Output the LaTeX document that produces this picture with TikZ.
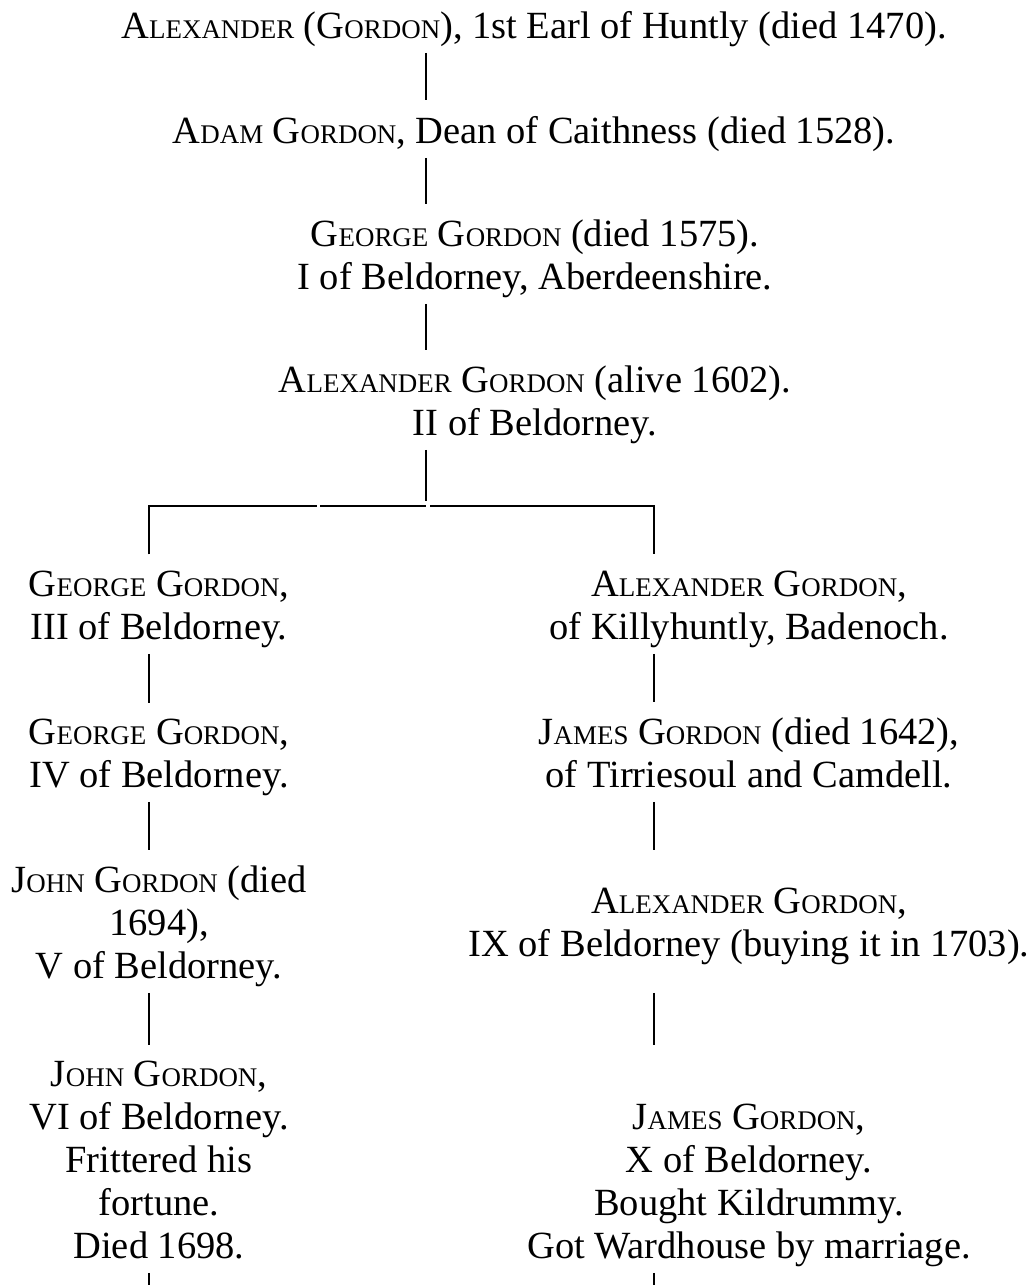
\documentclass[tikz,border=0pt]{standalone}
\usepackage{fontspec}
\setmainfont{Liberation Serif}
\usepackage{tikz}
\usetikzlibrary{positioning, calc}

% fake small capitals, as the printed tree has them
\newcommand{\smcap}[2]{#1{\fontsize{20.2pt}{32.25pt}\selectfont #2}}

\tikzset{
  person/.style={anchor=base, inner sep=0pt, align=center,
    font=\fontsize{28.85pt}{32.25pt}\selectfont,
    execute at end node={\rule[-8pt]{0pt}{8pt}}},
  link/.style={line width=1.5pt, shorten <=3pt, shorten >=11.5pt},
}

\begin{document}
\begin{tikzpicture}[x=0.75pt, y=-0.75pt]
  \useasboundingbox (0,0) rectangle (1031,1285);

  % Lines of descent
  \coordinate (trunk) at (425.5,0);
  \coordinate (lcol) at (149,0);
  \coordinate (rcol) at (654,0);
  \coordinate (split) at (318.5,506);
  \coordinate (join) at (428.3,506);
  \coordinate (bar) at (0,506);
  \coordinate (foot) at (0,1285);

  % Main line (placed at the baseline of the last line)
  \node[person] (earl) at (534,38)
    {\smcap{A}{LEXANDER} (\smcap{G}{ORDON}), 1st Earl of Huntly (died 1470).};
  \node[person] (adam) at (534,143)
    {\smcap{A}{DAM} \smcap{G}{ORDON}, Dean of Caithness (died 1528).};
  \node[person] (george1) at (535,289)
    {\smcap{G}{EORGE} \smcap{G}{ORDON} (died 1575).\\I of Beldorney, Aberdeenshire.};
  \node[person] (alex2) at (535,435)
    {\smcap{A}{LEXANDER} \smcap{G}{ORDON} (alive 1602).\\II of Beldorney.};

  % Beldorney line
  \node[person] (george3) at (159,639)
    {\smcap{G}{EORGE} \smcap{G}{ORDON},\\III of Beldorney.};
  \node[person] (george4) at (159,787)
    {\smcap{G}{EORGE} \smcap{G}{ORDON},\\IV of Beldorney.};
  \node[person] (john5) at (159,978)
    {\smcap{J}{OHN} \smcap{G}{ORDON} (died\\1694),\\V of Beldorney.};
  \node[person] (john6) at (159,1258)
    {\smcap{J}{OHN} \smcap{G}{ORDON},\\VI of Beldorney.\\Frittered his\\fortune.\\Died 1698.};

  % Killyhuntly line
  \node[person] (alexk) at (749,639)
    {\smcap{A}{LEXANDER} \smcap{G}{ORDON},\\of Killyhuntly, Badenoch.};
  \node[person] (james1) at (749,787)
    {\smcap{J}{AMES} \smcap{G}{ORDON} (died 1642),\\of Tirriesoul and Camdell.};
  \node[person] (alex9) at (749,956)
    {\smcap{A}{LEXANDER} \smcap{G}{ORDON},\\IX of Beldorney (buying it in 1703).};
  \node[person] (james10) at (749,1258)
    {\smcap{J}{AMES} \smcap{G}{ORDON},\\X of Beldorney.\\Bought Kildrummy.\\Got Wardhouse by marriage.};

  % Connectors
  \draw[link] (earl.south -| trunk) -- (adam.north -| trunk);
  \draw[link] (adam.south -| trunk) -- (george1.north -| trunk);
  \draw[link] (george1.south -| trunk) -- (alex2.north -| trunk);
  \draw[link, shorten >=3.75pt] (alex2.south -| trunk) -- (bar -| trunk);
  \draw[link, shorten <=12pt, shorten >=1.2pt] (george3.north -| lcol) |- (split);
  \draw[link, shorten <=1.2pt, shorten >=1.5pt] (split) -- (join);
  \draw[link, shorten <=1.5pt, shorten >=12pt] (join) -| (alexk.north -| rcol);
  \draw[link] (george3.south -| lcol) -- (george4.north -| lcol);
  \draw[link] (george4.south -| lcol) -- (john5.north -| lcol);
  \draw[link] (john5.south -| lcol) -- (john6.north -| lcol);
  \draw[link, shorten >=0pt] (john6.south -| lcol) -- (foot -| lcol);
  \draw[link] (alexk.south -| rcol) -- (james1.north -| rcol);
  % right-hand links keep to the rows of the left-hand column
  \draw[link] (james1.south -| rcol) -- (john5.north -| rcol);
  \draw[link] (john5.south -| rcol) -- (john6.north -| rcol);
  \draw[link, shorten >=0pt] (james10.south -| rcol) -- (foot -| rcol);
\end{tikzpicture}
\end{document}
